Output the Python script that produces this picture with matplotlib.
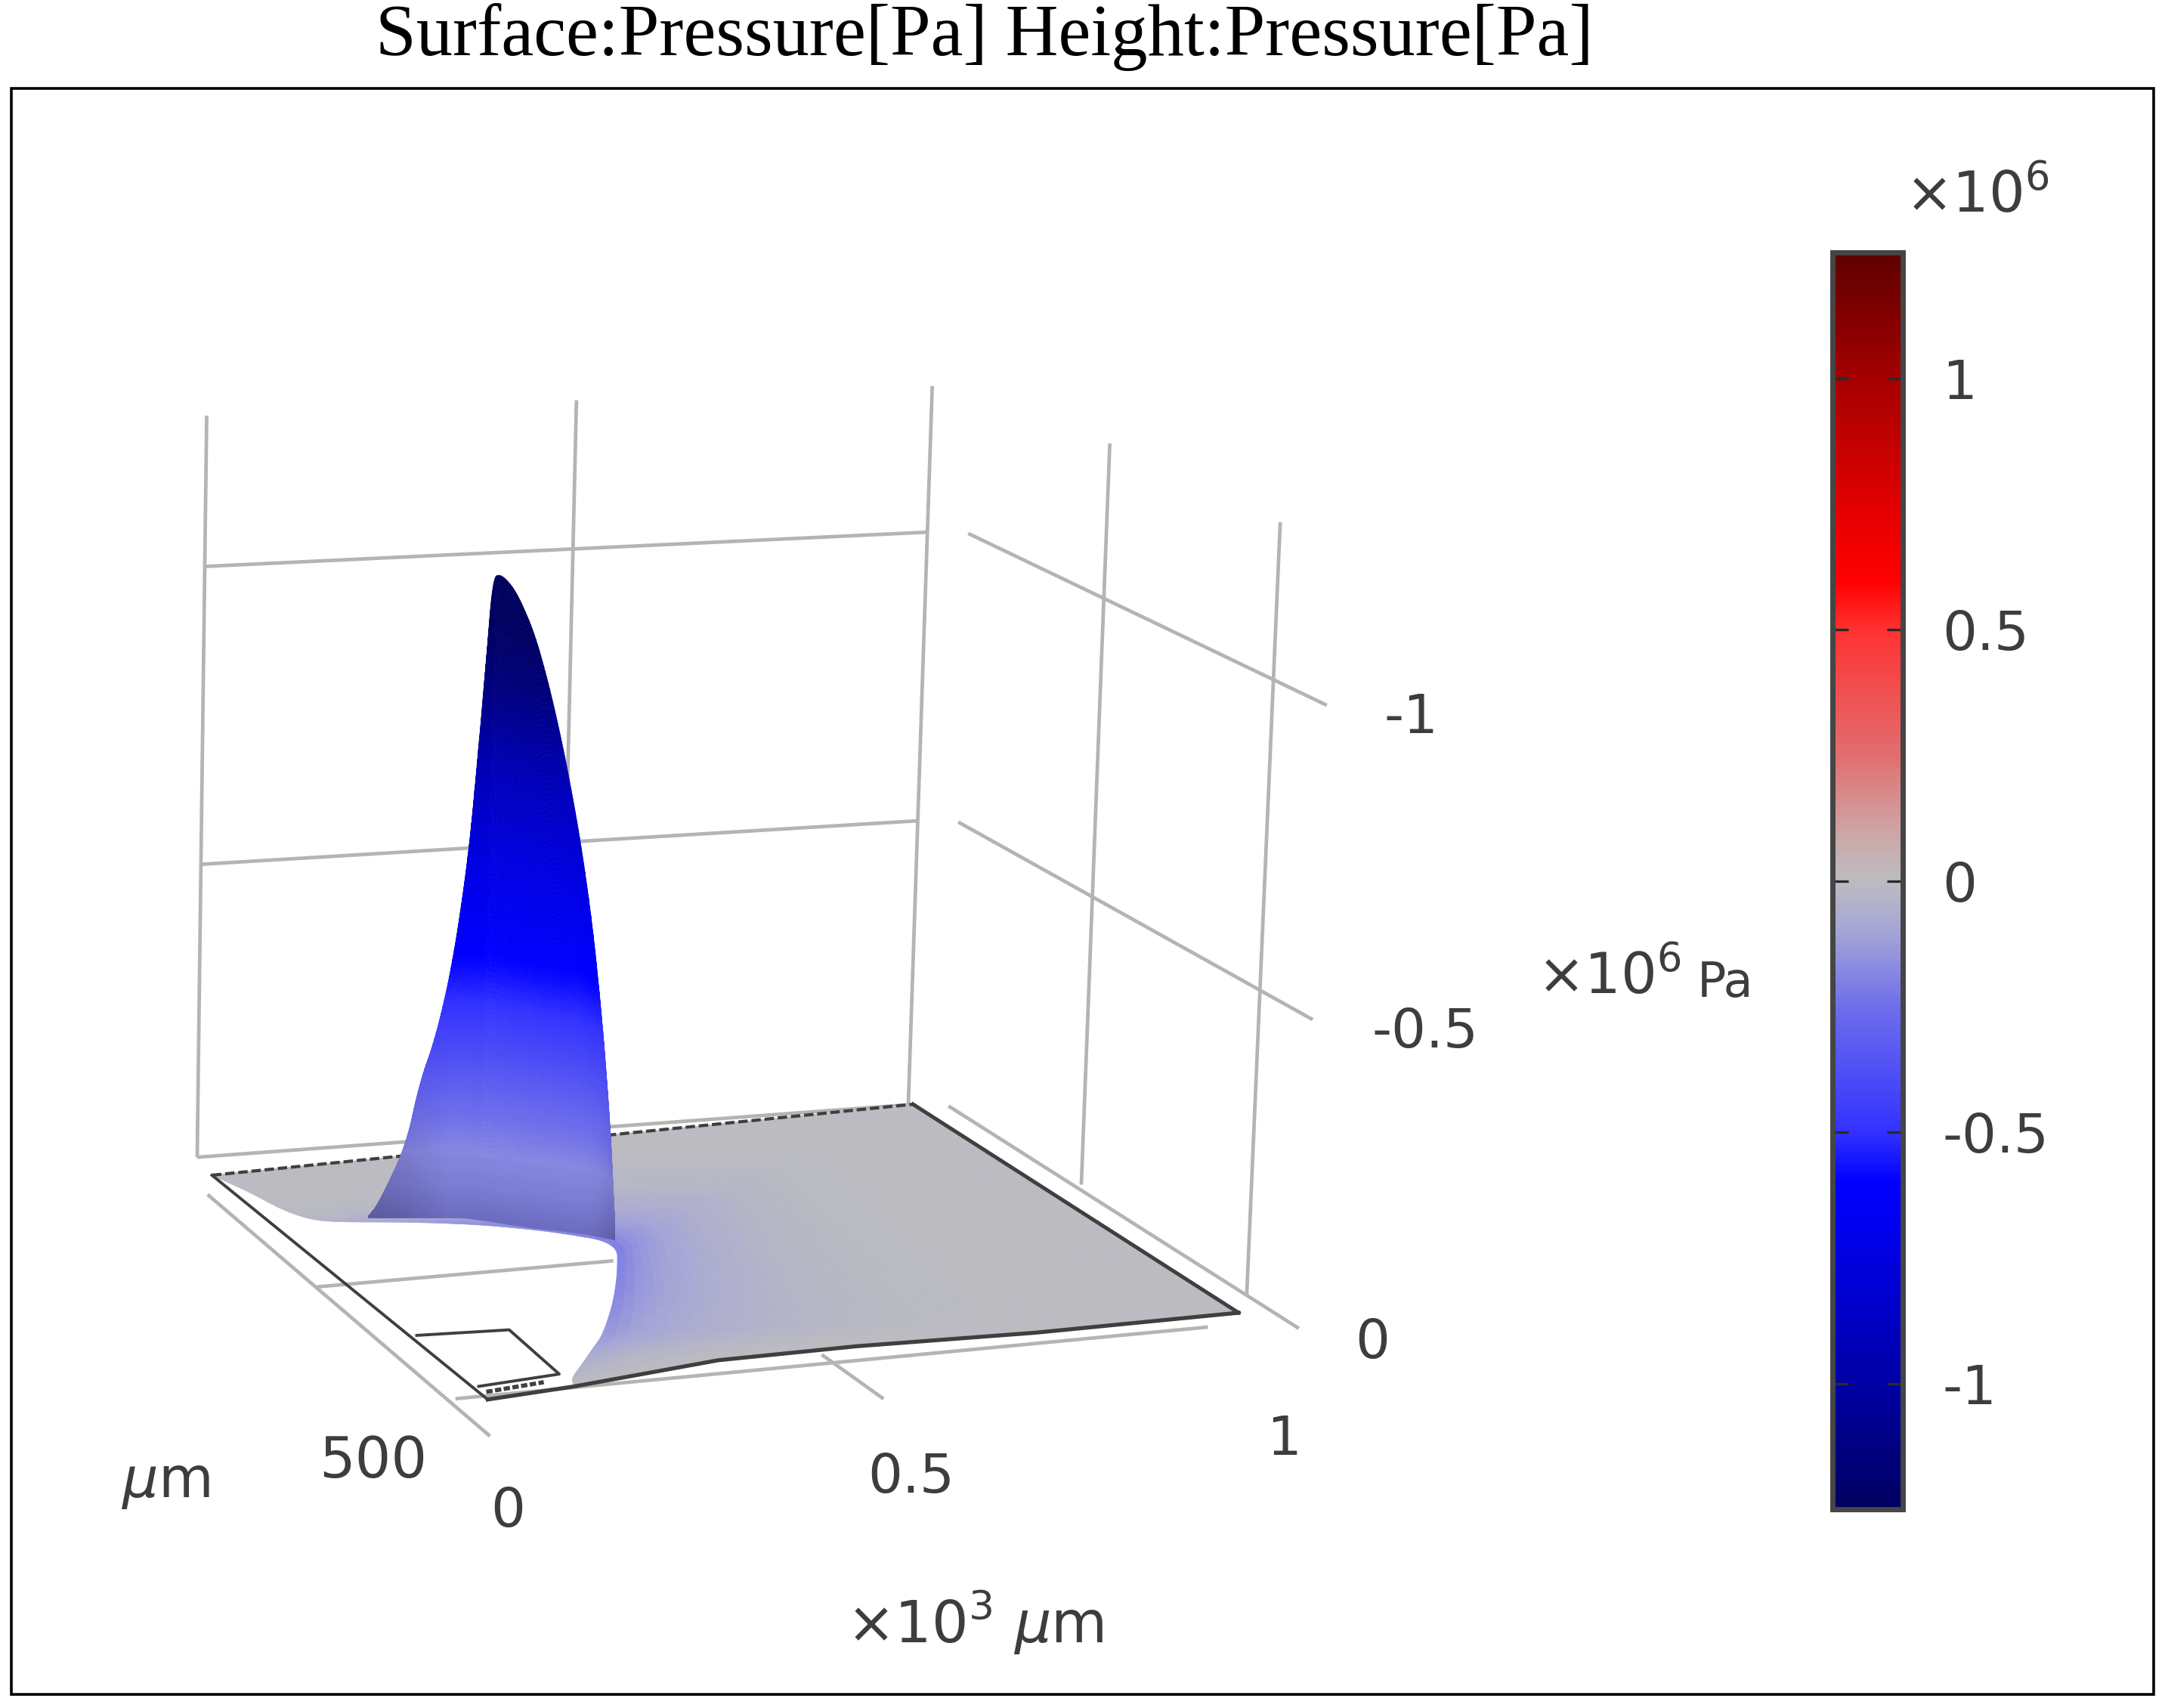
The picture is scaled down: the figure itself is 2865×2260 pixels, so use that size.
import numpy as np, matplotlib
matplotlib.use('Agg')
import matplotlib.pyplot as plt
from matplotlib.colors import LinearSegmentedColormap, Normalize
from matplotlib.cm import ScalarMappable
from matplotlib.patches import Rectangle

FW, FH = 2865, 2260
S = FW / 1568

# ---- data (x in 1e3 um, y in 1e3 um, pressure/height in 1e6 Pa) ----
title = 'Surface:Pressure[Pa] Height:Pressure[Pa]'
cbar_ticks = [-1, -0.5, 0, 0.5, 1]
cbar_ticklabels = ['-1', '-0.5', '0', '0.5', '1']
z_levels = [-0.5, -1.0]
z_top = -1.25

# back wall of the grid box
back_x = [0.009, 0.503, 0.993]
back_y = [1.085, 1.044, 1.000]
# right wall of the grid box
right_x = [1.042, 1.053, 1.042]
right_y_lines = [0.976, 0.575, 0.062]
right_floor_y = [0.976, -0.084]
# floor grid
floor_x0 = ([-0.034, -0.047], [0.919, -0.130])
floor_x5 = ([0.444, 0.445], [0.023, -0.162])
floor_y0 = ([-0.035, 0.938], [0.016, -0.040])
floor_y5 = ([-0.039, 0.350], [0.494, 0.470])

# pressure sheet: inner boundary (edge of the opening) and outer boundary
hole_x = [0.000, 0.021, 0.033, 0.052, 0.079, 0.173, 0.252, 0.324, 0.384, 0.333, 0.280, 0.222, 0.190, 0.159, 0.124, 0.115]
hole_y = [1.000, 0.906, 0.823, 0.770, 0.748, 0.713, 0.672, 0.614, 0.541, 0.414, 0.298, 0.187, 0.140, 0.093, 0.042, 0.011]
outer_x = [0.000, 0.136, 0.249, 0.363, 0.478, 0.616, 0.754, 0.869, 1.000, 1.000, 1.000, 1.000, 0.727, 0.497, 0.317, 0.115]
outer_y = [1.000, 1.000, 1.000, 1.000, 1.000, 1.000, 1.000, 1.000, 1.000, 0.683, 0.383, 0.000, 0.013, 0.039, 0.046, 0.011]
hole_p = [0.0, -0.005, -0.01, -0.02, -0.04, -0.12, -0.16, -0.18, -0.20, -0.19, -0.17, -0.13, -0.09, -0.05, -0.02, -0.01]
ray_frac = [0, 0.04, 0.10, 0.17, 0.25, 0.33, 0.42, 0.52, 0.65, 1.0]
ray_decay = [1, 0.78, 0.58, 0.42, 0.29, 0.18, 0.10, 0.05, 0.02, 0]

# pressure ridge: base position and peak height at each station
fin_x = [0.123, 0.136, 0.168, 0.183, 0.202, 0.220, 0.236, 0.245, 0.250, 0.255, 0.263, 0.277, 0.295, 0.311, 0.328, 0.345, 0.359, 0.370, 0.379, 0.386]
fin_y = [0.751, 0.746, 0.735, 0.729, 0.723, 0.716, 0.710, 0.705, 0.699, 0.694, 0.685, 0.669, 0.649, 0.633, 0.619, 0.604, 0.590, 0.576, 0.562, 0.553]
fin_z = [0.000, -0.023, -0.121, -0.227, -0.306, -0.428, -0.604, -0.786, -0.921, -1.064, -1.070, -1.046, -0.982, -0.895, -0.787, -0.656, -0.516, -0.360, -0.187, -0.005]
fin_shade = [0.84, 0.85, 0.88, 0.92, 0.96, 1, 1, 1, 1, 1, 1, 1, 1, 1, 1, 1, 1, 0.97, 0.9, 0.84]
# colour read along the ridge as a function of height
fin_height = [0.0, -0.05, -0.11, -0.19, -0.30, -0.42, -0.60, -0.73, -0.89, -1.0]
fin_press = [-0.20, -0.19, -0.18, -0.27, -0.42, -0.58, -0.75, -0.90, -1.15, -1.25]
fin_bright = [0.84, 0.93, 1.0, 1.0, 1.0, 1.0, 1.0, 1.0, 1.0, 1.0]

# small rectangle inside the opening
rect_x = [0.009, 0.123, 0.116, 0.008]
rect_y = [0.265, 0.247, 0.062, 0.051]
strip_x = [0.009, 0.087]
strip_y = [0.028, 0.039]
# front edge of the sheet
front_x = [0, 0.115, 0.317, 0.497, 0.727, 1.0]
front_y = [0, 0.011, 0.046, 0.039, 0.013, 0.0]

# colour scale
cmap_vals = [-1.25, -1.0, -0.75, -0.6, -0.5, -0.25, -0.1, 0, 0.1, 0.25, 0.5, 0.6, 0.75, 1.0, 1.25]
cmap_cols = ['#00005f', '#0000a5', '#0000e1', '#0000ff', '#3232ff', '#6e6eeb', '#a5a5d7', '#bcbcc0',
             '#cda5a5', '#e16e6e', '#ff3232', '#ff0000', '#e10000', '#a50000', '#5f0000']
# camera: corners of the box and where they appear (reference px at 1568 wide)
cam_world = [(0, 0, 0), (1, 0, 0), (1, 1, 0), (0, 1, 0), (0, 0, -1.25), (1, 0, -1.25), (1, 1, -1.25), (0, 1, -1.25)]
cam_image = [(355, 1017), (895, 950), (663, 803), (152, 845), (367.5, 430), (920, 380), (680, 283), (159, 309)]

# ---- camera ----
A, b = [], []
for (x, y, z), (u, v) in zip(cam_world, cam_image):
    A.append([x, y, z, 1, 0, 0, 0, 0, -u*x, -u*y, -u*z]); b.append(u)
    A.append([0, 0, 0, 0, x, y, z, 1, -v*x, -v*y, -v*z]); b.append(v)
P = np.append(np.linalg.lstsq(np.array(A, float), np.array(b, float), rcond=None)[0], 1).reshape(3, 4)

plt.rcParams['font.family'] = ['DejaVu Sans']
fig = plt.figure(figsize=(FW/100, FH/100), dpi=100, facecolor='white')
side = FW
ax = fig.add_axes([0, -(side-FH)/2/FH, 1, side/FH], projection='3d')
ax.set_axis_off()
ax.patch.set_visible(False)
ax.computed_zorder = False
vx0, vx1 = ax.viewLim.intervalx
vy0, vy1 = ax.viewLim.intervaly
top_px = FH + (side-FH)/2
ax_x, bx = (vx1-vx0)/side*S, vx0
ax_y, by = -(vy1-vy0)/side*S, vy0 + (vy1-vy0)*top_px/side
M = np.vstack([ax_x*P[0]+bx*P[2], ax_y*P[1]+by*P[2], [0, 0, 0, -1], P[2]])
ax.get_proj = lambda: M

GRID = '#b4b4b4'; GLW = 3.4
def L(xs, ys, zs, c=GRID, lw=GLW, zo=1, **kw):
    ax.plot(xs, ys, zs, color=c, lw=lw, zorder=zo, solid_capstyle='butt', **kw)

# walls
for x, y in zip(back_x, back_y):
    L([x, x], [y, y], [0, z_top])
for z in [0] + z_levels:
    L([back_x[0], back_x[-1]], [back_y[0], back_y[-1]], [z, z])
for x, y in zip(right_x[1:], right_y_lines[1:]):
    L([x, x], [y, y], [0, z_top])
for z in [0] + z_levels:
    L([right_x[0], right_x[0]], right_floor_y, [z, z])
for xs, ys in (floor_x0, floor_x5, floor_y0, floor_y5):
    L(xs, ys, [0, 0])

# colour map
norm = Normalize(-1.25, 1.25)
cmap = LinearSegmentedColormap.from_list('wave', [(norm(v), c) for v, c in zip(cmap_vals, cmap_cols)], N=512)

def smooth(a, w):
    pad = np.r_[np.full(w, a[0]), a, np.full(w, a[-1])]
    return np.convolve(pad, np.ones(2*w+1)/(2*w+1), 'same')[w:-w]

# sheet
nrow = 48
f = np.arange(nrow+1)/nrow
dec = np.interp(f, ray_frac, ray_decay)
hx, hy, ox, oy, hp = map(np.array, (hole_x, hole_y, outer_x, outer_y, hole_p))
t = np.linspace(0, len(hx)-1, 121)
idx = np.arange(len(hx))
hxf, hyf = smooth(np.interp(t, idx, hx), 3), smooth(np.interp(t, idx, hy), 3)
oxf, oyf = np.interp(t, idx, ox), np.interp(t, idx, oy)
sX = hxf[None, :] + f[:, None]*(oxf-hxf)[None, :]
sY = hyf[None, :] + f[:, None]*(oyf-hyf)[None, :]
sP = smooth(np.interp(t, idx, hp), 5)[None, :]*dec[:, None]
ax.plot_surface(sX, sY, np.zeros_like(sX), facecolors=cmap(norm(sP)), shade=False,
                rstride=1, cstride=1, linewidth=0.5, antialiased=True, zorder=3)

# back edge
DARK = '#3f3f3f'
ax.plot([0, 1], [1, 1], [0, 0], color=DARK, lw=3, ls=(0, (3, 1.2)), zorder=4)

# ridge
fx, fy, fz, fs = map(np.array, (fin_x, fin_y, fin_z, fin_shade))
fi = np.arange(len(fx))
tf = np.linspace(0, len(fx)-1, 191)
fX = smooth(np.interp(tf, fi, fx), 4); fY = smooth(np.interp(tf, fi, fy), 4)
fZ = smooth(np.interp(tf, fi, fz), 4); fS = np.interp(tf, fi, fs)
rows = np.arange(121)/120
mX = np.repeat(fX[None, :], 121, 0); mY = np.repeat(fY[None, :], 121, 0)
mZ = rows[:, None]*fZ[None, :]
zz = -mZ
mP = np.interp(zz, -np.array(fin_height), fin_press)
mB = np.interp(zz, -np.array(fin_height), fin_bright)
col = cmap(norm(mP))
w = np.clip(zz/0.35, 0, 1)
col[..., :3] *= (mB*(fS[None, :]*(1-w) + w))[..., None]
ax.plot_surface(mX, mY, mZ, facecolors=col, shade=False, rstride=1, cstride=1,
                linewidth=0.5, antialiased=True, zorder=5)

# outlines
ax.plot([0, 0], [1, 0], [0, 0], color=DARK, lw=2.8, zorder=6)
ax.plot([1, 1], [1, 0], [0, 0], color=DARK, lw=3.6, zorder=6)
ax.plot(front_x, front_y, [0]*6, color=DARK, lw=3.8, zorder=6)
ax.plot(rect_x, rect_y, [0]*4, color=DARK, lw=2.8, zorder=6)
ax.plot(strip_x, strip_y, [0, 0], color=DARK, lw=4, ls=(0, (1.5, 0.6)), zorder=6)

# frame and title
fig.add_artist(Rectangle((15/FW, 1-2242/FH), (2850-15)/FW, (2242-117)/FH, transform=fig.transFigure,
                         fill=False, ec='black', lw=2.6))
fig.text(713*S/FW, 1-27*S/FH, title, family='Liberation Serif', fontsize=69.5, ha='center', va='center', color='black')

def T(u, v, s, size=52, ha='center', **kw):
    fig.text(u*S/FW, 1-v*S/FH, s, fontsize=size, ha=ha, va='center', color='#3d3d3d', **kw)

T(1022, 520, '-1'); T(1032, 748, '-0.5'); T(994, 973, '0')
T(1113, 708, r'×10$^{6}$', size=54, ha='left'); T(1229, 712, 'Pa', size=46, ha='left')
T(368, 1095, '0'); T(660, 1070, '0.5'); T(930, 1043, '1')
T(270, 1059, '500', size=54); T(120, 1074, r'$\mu$m', size=54)
T(706, 1175, r'×10$^{3}$ $\mu$m', size=55)
T(1432, 142, r'×10$^{6}$', size=54)

# colour bar
cax = fig.add_axes([1327*S/FW, 1-1093*S/FH, 51*S/FW, 910*S/FH])
cb = fig.colorbar(ScalarMappable(norm=norm, cmap=cmap), cax=cax, ticks=cbar_ticks)
cb.ax.set_yticklabels(cbar_ticklabels)
cb.ax.tick_params(axis='y', direction='in', left=True, right=True, length=15, width=2.4,
                  color='#2a2a2a', labelsize=52, labelcolor='#3d3d3d', pad=38)
cb.outline.set_edgecolor('#454545'); cb.outline.set_linewidth(5)
for lab in cb.ax.get_yticklabels():
    lab.set_ha('left')

fig.savefig('out.png', dpi=100)
